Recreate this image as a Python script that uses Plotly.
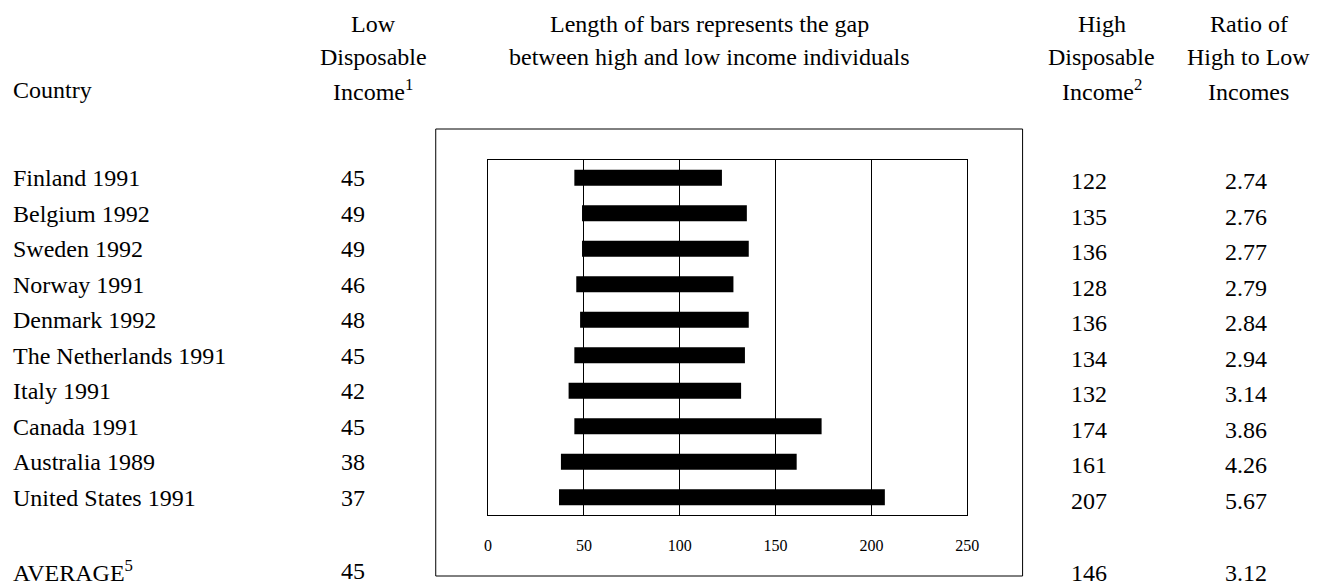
import plotly.graph_objects as go

countries = ["Finland 1991", "Belgium 1992", "Sweden 1992", "Norway 1991", "Denmark 1992",
             "The Netherlands 1991", "Italy 1991", "Canada 1991", "Australia 1989", "United States 1991"]
low_income = [45, 49, 49, 46, 48, 45, 42, 45, 38, 37]
high_income = [122, 135, 136, 128, 136, 134, 132, 174, 161, 207]
ratio = ["2.74", "2.76", "2.77", "2.79", "2.84", "2.94", "3.14", "3.86", "4.26", "5.67"]
avg_label = "AVERAGE<sup>5</sup>"
avg_low = 45
avg_high = 146
avg_ratio = "3.12"
tick_vals = [0, 50, 100, 150, 200, 250]

FONT = "Liberation Serif"
FS = 24
W, H = 1329, 587


def px(x):
    return x / W


def py(y):
    return 1 - y / H


ROW0, ROWSTEP = 178, 35.5         # pixel y of first row and row pitch


def row(y):
    return (y - ROW0) / ROWSTEP


fig = go.Figure()
fig.add_trace(go.Bar(
    y=countries,
    x=[h - l for h, l in zip(high_income, low_income)],
    base=low_income,
    orientation="h",
    marker=dict(color="black", line=dict(width=0)),
    width=0.45,
    hoverinfo="skip",
))
fig.add_trace(go.Scatter(x=[None], y=[None], xaxis="x2", yaxis="y2",
                         showlegend=False, hoverinfo="skip"))

ann = []
X_COUNTRY = px(7)
X_LOW = px(353)
X_LOW_H = px(374)
X_MID = px(714)
X_HIGH = px(1098)
X_HIGH_H = px(1111)
X_RATIO = px(1257)
X_RATIO_H = px(1260)


def t(x, y, text, xanchor="center", yshift=0):
    ann.append(dict(x=x, y=y, xref="paper", yref="y2", text=text, showarrow=False,
                    xanchor=xanchor, yanchor="middle", yshift=yshift,
                    font=dict(family=FONT, size=FS, color="black")))


for i, c in enumerate(countries):
    t(X_COUNTRY, i, c, "left")
    t(X_LOW, i, str(low_income[i]))
    t(X_HIGH, i, str(high_income[i]), yshift=-3)
    t(X_RATIO, i, ratio[i], yshift=-3)

R_AVG = row(571)
t(X_COUNTRY, R_AVG, avg_label, "left")
t(X_LOW, R_AVG, str(avg_low))
t(X_HIGH, R_AVG, str(avg_high), yshift=-2)
t(X_RATIO, R_AVG, avg_ratio, yshift=-2)

H1, H2, H3 = row(24), row(57), row(90)
t(X_COUNTRY, H3, "Country", "left")
t(X_LOW_H, H1, "Low")
t(X_LOW_H, H2, "Disposable")
t(X_LOW_H, H3, "Income<sup>1</sup>")
t(X_MID, H1, "Length of bars represents the gap")
t(X_MID, H2, "between high and low income individuals")
t(X_HIGH_H, H1, "High")
t(X_HIGH_H, H2, "Disposable")
t(X_HIGH_H, H3, "Income<sup>2</sup>")
t(X_RATIO_H, H1, "Ratio of")
t(X_RATIO_H, H2, "High to Low")
t(X_RATIO_H, H3 + 0.06, "Incomes")

fig.update_layout(
    width=W, height=H,
    margin=dict(l=0, r=0, t=0, b=0),
    paper_bgcolor="white", plot_bgcolor="rgba(0,0,0,0)",
    showlegend=False,
    xaxis=dict(domain=[px(490), px(975)], range=[0, 250], tickvals=tick_vals,
               showgrid=True, gridcolor="black", gridwidth=1, zeroline=False,
               showline=True, linecolor="black", linewidth=1, mirror=True,
               ticks="", ticklabelstandoff=16,
               tickfont=dict(family=FONT, size=16, color="black"), fixedrange=True),
    yaxis=dict(domain=[py(515), py(160)], autorange="reversed",
               showticklabels=False, showgrid=False, zeroline=False,
               showline=True, linecolor="black", linewidth=1, mirror=True, ticks="",
               fixedrange=True),
    xaxis2=dict(domain=[0, 1], range=[0, 1], visible=False, fixedrange=True, anchor="y2"),
    yaxis2=dict(domain=[0, 1], range=[row(H), row(0)], anchor="x2",
                visible=False, fixedrange=True),
    annotations=ann,
    shapes=[dict(type="rect", xref="paper", yref="paper",
                 x0=px(437), x1=px(1031), y0=py(576), y1=py(129),
                 line=dict(color="black", width=1), fillcolor="rgba(0,0,0,0)")],
)

fig.write_html("out.html", config={"displayModeBar": False},
               post_script="document.body.style.margin='0px';")
